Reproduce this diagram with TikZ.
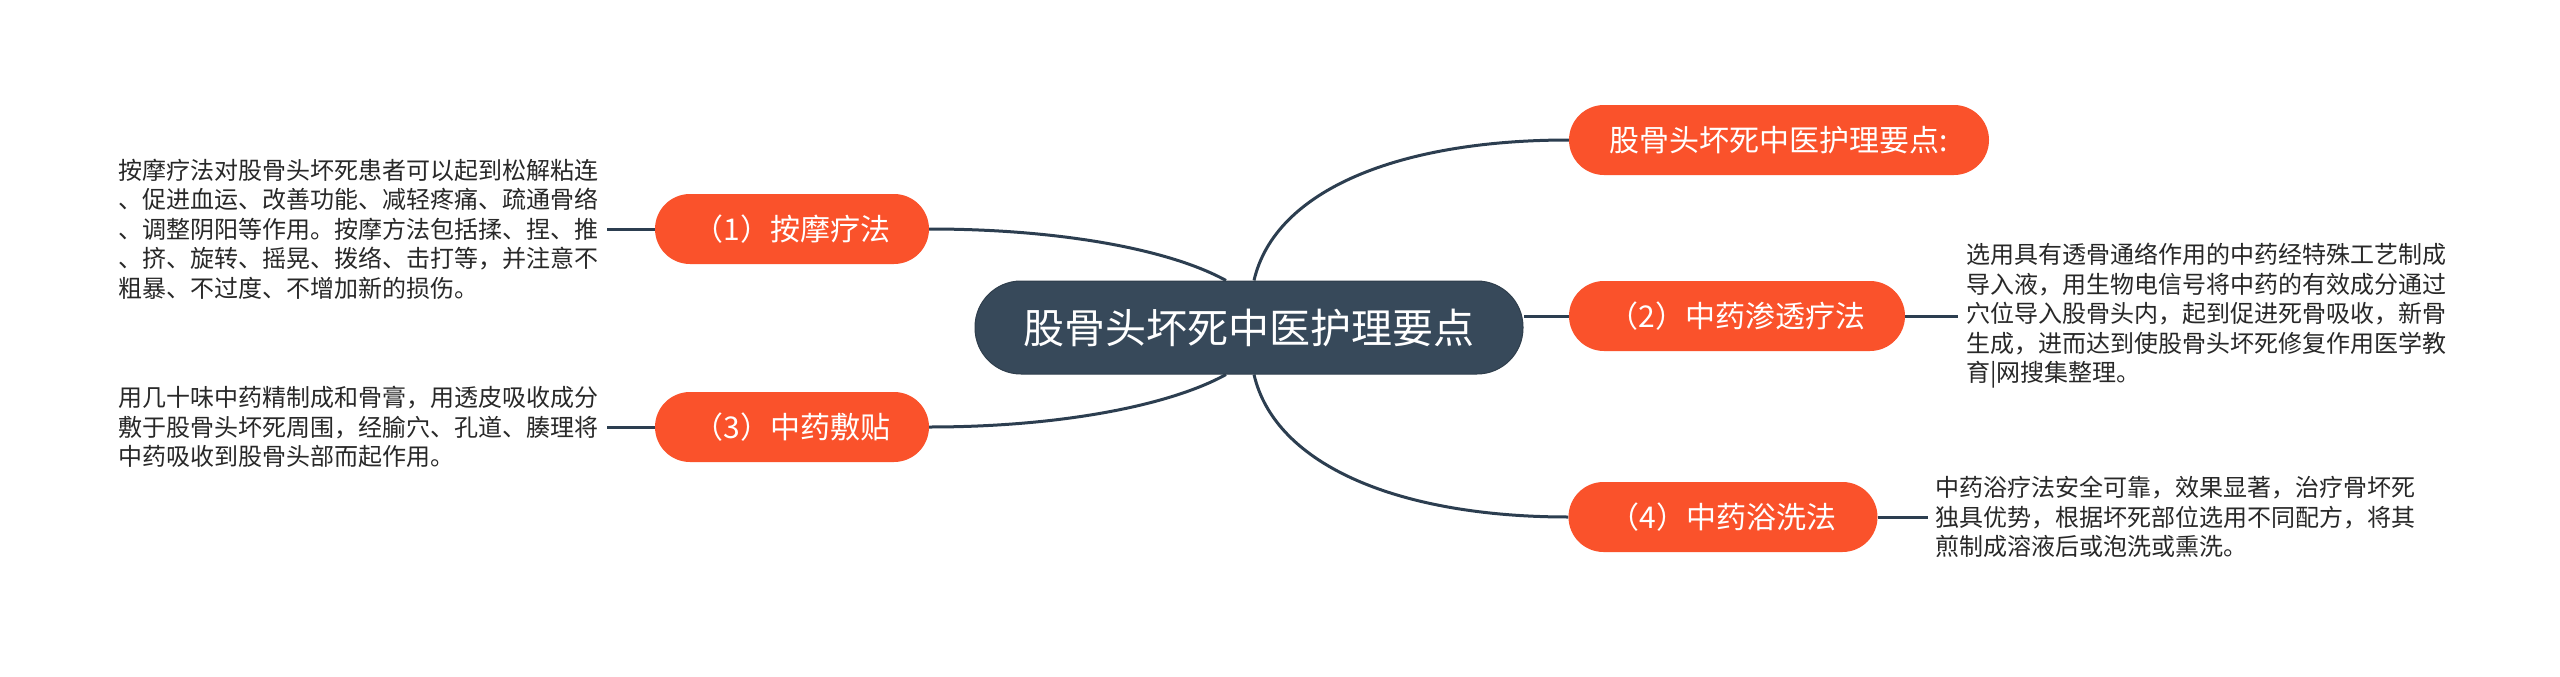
\documentclass[tikz,border=0pt]{standalone}
\usepackage{fontspec}
\setmainfont{Noto Sans CJK SC}
\usetikzlibrary{backgrounds}
\definecolor{orng}{RGB}{250,82,43}
\definecolor{slate}{RGB}{55,73,90}
\definecolor{linec}{RGB}{44,62,80}
\definecolor{txt}{RGB}{40,40,40}
\begin{document}
\begin{tikzpicture}[x=1pt,y=-1pt,
  mainbox/.style={fill=slate, draw=slate!85!black, line width=1pt, rounded corners=46pt,
    minimum width=548pt, minimum height=93pt, text=white,
    font=\fontsize{41}{48}\selectfont, inner sep=0pt},
  subbox/.style={fill=orng, rounded corners=35pt, minimum height=70pt, text=white,
    font=\fontsize{30}{36}\selectfont, inner sep=0pt},
  desc/.style={text=txt, align=left, font=\fontsize{24}{29.5}\selectfont,
    inner ysep=0pt, inner xsep=8pt},
  conn/.style={draw=linec, line width=3pt}]
\useasboundingbox (0,0) rectangle (2560,677);

\node[mainbox] (c) at (1249,327.5) {股骨头坏死中医护理要点};

\node[subbox, minimum width=420pt] (n0) at (1779,140) {股骨头坏死中医护理要点:};
\node[subbox, minimum width=274pt] (n1) at (792,229) {（1）按摩疗法};
\node[subbox, minimum width=336pt] (n2) at (1737,316) {（2）中药渗透疗法};
\node[subbox, minimum width=274pt] (n3) at (792,427) {（3）中药敷贴};
\node[subbox, minimum width=309pt] (n4) at (1723,517) {（4）中药浴洗法};

\node[desc, anchor=east] (t1) at (607,229) {按摩疗法对股骨头坏死患者可以起到松解粘连\\、促进血运、改善功能、减轻疼痛、疏通骨络\\、调整阴阳等作用。按摩方法包括揉、捏、推\\、挤、旋转、摇晃、拨络、击打等，并注意不\\粗暴、不过度、不增加新的损伤。};
\node[desc, anchor=east] (t3) at (607,427) {用几十味中药精制成和骨膏，用透皮吸收成分\\敷于股骨头坏死周围，经腧穴、孔道、腠理将\\中药吸收到股骨头部而起作用。};
\node[desc, anchor=west] (t2) at (1958,316) {选用具有透骨通络作用的中药经特殊工艺制成\\导入液，用生物电信号将中药的有效成分通过\\穴位导入股骨头内，起到促进死骨吸收，新骨\\生成，进而达到使股骨头坏死修复作用医学教\\育|网搜集整理。};
\node[desc, anchor=west, inner xsep=7pt] (t4) at (1928,517) {中药浴疗法安全可靠，效果显著，治疗骨坏死\\独具优势，根据坏死部位选用不同配方，将其\\煎制成溶液后或泡洗或熏洗。};

\begin{scope}[on background layer]
\fill[white] (0,0) rectangle (2560,677);
\draw[conn] ([xshift=-23pt]c.north) .. controls +(-56,-31) and +(131,0) .. (n1.east);
\draw[conn] ([xshift=-23pt]c.south) .. controls +(-56,31) and +(131,0) .. (n3.east);
\draw[conn] ([xshift=5pt]c.north) .. controls +(21,-91) and +(-169,0) .. (n0.west);
\draw[conn] ([xshift=5pt]c.south) .. controls +(21,91) and +(-169,0) .. (n4.west);
\draw[conn] (n2.west) -- (n2.west -| c.east);
\draw[conn] (n1.west) -- (t1.east);
\draw[conn] (n3.west) -- (t3.east);
\draw[conn] (n2.east) -- (t2.west);
\draw[conn] (n4.east) -- (t4.west);
\end{scope}
\end{tikzpicture}
\end{document}
